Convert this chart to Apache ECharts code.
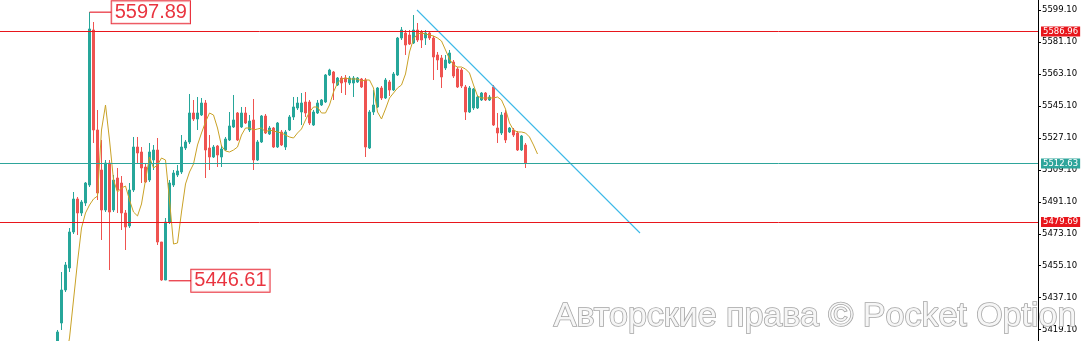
<!DOCTYPE html>
<html><head><meta charset="utf-8">
<script src="https://cdn.jsdelivr.net/npm/echarts@6/dist/echarts.min.js"></script>
<style>html,body{margin:0;padding:0;background:#fff}#c{width:1086px;height:341px}</style>
</head><body><div id="c"></div>
<script>
// candle values, one entry per bar (index = bar number)
const opens = [
5410.46,5422.85,5441.43,5453.82,5474.09,5492.67,5484.79,5490.42,5500.56,5587.84,
5531.53,5509.00,5486.48,5512.94,5486.48,5504.50,5501.68,5484.79,5477.47,5497.74,
5521.95,5519.14,5510.69,5503.37,5514.63,5520.26,5468.46,5447.06,5479.72,5500.56,
5506.19,5507.88,5521.39,5524.77,5541.10,5537.72,5539.97,5546.73,5521.39,5516.32,
5522.52,5516.32,5520.26,5525.90,5533.22,5541.10,5533.22,5541.10,5531.53,5537.16,
5514.63,5524.77,5539.41,5529.27,5532.65,5521.95,5530.40,5521.95,5531.53,5538.85,
5543.92,5541.66,5547.29,5547.29,5534.34,5541.10,5545.60,5547.29,5562.50,5564.19,
5556.87,5560.81,5560.81,5557.99,5557.99,5558.56,5560.25,5559.68,5521.39,5541.66,
5544.48,5555.18,5549.55,5558.56,5554.05,5562.50,5583.33,5586.15,5585.02,5580.52,
5587.84,5586.71,5583.33,5586.15,5583.33,5573.76,5572.07,5566.44,5569.25,5569.82,
5565.88,5565.31,5555.74,5541.66,5543.92,5543.92,5548.42,5552.36,5548.42,5555.74,
5532.65,5529.84,5541.10,5530.40,5531.53,5529.84,5520.26,5523.08];
const closes = [
5417.78,5441.43,5455.51,5474.09,5492.67,5484.79,5490.98,5501.68,5588.40,5531.53,
5496.05,5486.48,5512.94,5485.35,5503.37,5497.74,5484.79,5476.91,5497.74,5521.95,
5518.58,5510.13,5502.25,5519.14,5520.26,5468.46,5447.06,5479.72,5501.68,5507.31,
5508.44,5521.95,5524.77,5541.10,5537.72,5541.10,5546.73,5520.26,5516.32,5521.95,
5517.45,5520.83,5526.46,5533.78,5537.16,5525.90,5541.10,5535.47,5536.59,5514.63,
5524.77,5539.41,5529.84,5532.65,5521.95,5535.47,5523.08,5530.40,5538.85,5544.48,
5546.73,5546.73,5541.10,5535.47,5541.66,5546.73,5548.42,5562.50,5565.31,5557.99,
5560.81,5557.99,5558.56,5560.81,5560.81,5560.81,5555.74,5521.95,5541.66,5545.60,
5555.18,5549.55,5559.68,5554.05,5563.06,5583.33,5587.84,5579.39,5579.95,5587.84,
5582.21,5582.21,5586.15,5583.33,5572.63,5570.94,5561.37,5570.94,5574.89,5561.93,
5555.74,5556.30,5541.66,5555.18,5554.62,5550.11,5552.36,5548.42,5550.11,5534.34,
5529.84,5539.97,5525.90,5532.65,5528.71,5520.26,5528.15,5512.94];
const lows = [
5407.64,5418.91,5440.30,5451.57,5472.96,5472.40,5483.10,5488.73,5499.43,5524.21,
5492.11,5469.59,5485.35,5452.69,5485.35,5484.79,5475.22,5463.95,5476.34,5496.61,
5512.94,5501.68,5501.68,5502.25,5509.00,5466.77,5446.61,5447.00,5478.60,5499.43,
5505.06,5506.75,5520.26,5523.64,5536.59,5531.53,5539.41,5504.50,5509.00,5515.76,
5510.69,5510.69,5519.70,5525.33,5532.65,5525.33,5532.65,5534.91,5530.40,5509.00,
5514.07,5524.21,5529.27,5528.71,5521.39,5521.39,5522.52,5520.26,5530.96,5537.16,
5542.79,5534.34,5538.85,5534.34,5533.78,5540.54,5545.04,5546.73,5561.93,5548.42,
5556.30,5552.36,5551.24,5556.87,5550.11,5557.99,5555.18,5516.32,5520.83,5539.97,
5543.92,5548.42,5548.98,5550.67,5553.49,5561.93,5582.21,5573.76,5579.39,5579.95,
5581.08,5577.70,5579.39,5582.21,5559.68,5565.31,5555.18,5565.31,5568.69,5560.81,
5555.18,5555.18,5537.16,5541.10,5542.79,5543.35,5547.86,5547.86,5547.86,5533.78,
5524.21,5528.71,5524.21,5529.84,5527.59,5519.70,5519.70,5510.13];
const highs = [
5418.91,5451.57,5457.20,5476.34,5496.61,5493.80,5492.11,5502.25,5597.89,5592.34,
5542.79,5525.90,5514.63,5514.63,5506.19,5510.13,5505.62,5486.48,5501.68,5527.59,
5527.59,5521.95,5512.94,5524.21,5523.08,5527.02,5468.46,5481.97,5503.37,5509.00,
5511.82,5528.71,5525.90,5551.80,5548.42,5550.11,5549.55,5548.42,5528.71,5523.08,
5523.08,5523.08,5527.59,5541.66,5551.24,5541.66,5544.48,5544.48,5539.97,5548.98,
5525.90,5539.97,5540.54,5533.78,5533.22,5536.03,5531.53,5531.53,5539.97,5550.11,
5550.11,5552.36,5552.92,5548.42,5542.79,5548.42,5548.98,5563.06,5566.00,5564.75,
5561.37,5561.93,5562.50,5561.93,5561.93,5561.37,5560.81,5560.81,5542.79,5554.05,
5555.74,5556.30,5560.81,5559.68,5564.19,5583.90,5589.53,5587.84,5587.84,5596.28,
5591.78,5587.84,5587.84,5587.27,5584.46,5575.45,5573.76,5573.76,5576.57,5570.94,
5567.00,5566.44,5556.87,5556.30,5555.18,5551.24,5552.92,5552.92,5551.24,5556.87,
5541.10,5541.66,5542.79,5533.22,5532.65,5530.96,5528.71,5524.21];
// moving average line (extends 3 bars past the last candle)
const maValues = [
5379.49,5390.75,5402.01,5414.40,5435.80,5457.20,5476.34,5484.79,5489.29,5492.67,
5494.36,5531.53,5545.60,5525.90,5503.37,5496.61,5498.87,5499.99,5492.11,5485.35,
5483.10,5489.86,5503.37,5516.32,5510.13,5511.82,5515.76,5514.63,5492.11,5467.33,
5467.90,5485.35,5501.12,5507.88,5512.38,5523.08,5529.84,5536.03,5541.10,5539.97,
5532.65,5522.52,5519.70,5519.14,5520.26,5521.95,5528.71,5532.65,5532.65,5531.53,
5532.09,5532.65,5530.40,5531.53,5530.96,5530.40,5529.84,5528.71,5527.59,5527.02,
5529.84,5532.09,5537.16,5541.66,5544.48,5544.48,5541.10,5541.10,5545.60,5552.92,
5557.99,5560.25,5560.81,5560.25,5560.25,5560.25,5559.12,5559.68,5559.68,5555.18,
5541.66,5537.72,5543.35,5549.55,5552.36,5555.18,5556.87,5563.06,5575.45,5582.77,
5585.58,5586.15,5585.58,5585.02,5584.46,5583.33,5581.64,5576.57,5571.51,5568.13,
5567.00,5567.00,5565.88,5563.62,5556.87,5550.67,5549.55,5549.55,5549.55,5549.55,
5550.11,5548.42,5543.35,5535.47,5531.53,5530.40,5530.40,5529.84,5527.59,5523.08,
5518.01];
const yTicks = [5419.1,5437.1,5455.1,5473.1,5491.1,5509.1,5527.1,5545.1,5563.1,5581.1,5599.1];
const levelValues = [5586.96, 5512.63, 5479.69];
const trendBars = [89.875, 145.625];
const trendValues = [5599.10, 5473.53];
const highMark = {bar: 8, value: 5597.89, labelBar: 13.55};
const lowMark = {bar: 27.8, value: 5446.61, labelBar: 33.45};
const watermark = 'Авторские права © Pocket Option';

const UP = '#26a69a', DOWN = '#ef5350';
const levelColors = ['#e8161c', '#2ea59b', '#e8161c'];

const candleData = opens.map((o, i) => [i, o, closes[i], lows[i], highs[i]]);
const maData = maValues.map((v, i) => [i, v]);

const chart = echarts.init(document.getElementById('c'), null, {renderer: 'canvas'});
const annLabel = {
  show: true, position: 'right', distance: 0,
  color: '#e3000f', fontSize: 20, fontFamily: 'Liberation Sans',
  backgroundColor: '#fff', borderColor: '#e3000f', borderWidth: 1,
  padding: [1, 3, 0, 3], lineHeight: 21,
  formatter: p => p.value[1].toFixed(2)
};
chart.setOption({
  animation: false,
  grid: {left: 0, right: 48, top: 0, bottom: 0, containLabel: false},
  xAxis: {type: 'value', min: -14.375, max: 245.125, show: false},
  yAxis: {
    type: 'value', position: 'right', min: 5412.71, max: 5604.73,
    splitLine: {show: false},
    axisLine: {show: true, onZero: false, lineStyle: {color: '#000', width: 1}},
    axisTick: {show: true, length: 3, customValues: yTicks, lineStyle: {color: '#000'}},
    axisLabel: {customValues: yTicks, formatter: v => v.toFixed(2), fontFamily: 'DejaVu Sans', fontSize: 8.5, color: '#000', margin: 4}
  },
  graphic: [{
    type: 'text', left: 553, top: 299, z: 100, silent: true,
    style: {text: watermark, font: '34px "Liberation Sans"', fill: '#f6f6f6', stroke: '#a4a4a4', lineWidth: 1.6}
  }],
  series: [
    {
      type: 'candlestick', data: candleData, encode: {x: 0, y: [1, 2, 3, 4]},
      barWidth: 2, z: 2,
      itemStyle: {color: UP, color0: DOWN, borderColor: UP, borderColor0: DOWN, borderWidth: 1},
      markLine: {
        silent: true, symbol: ['none', 'none'], animation: false,
        lineStyle: {type: 'solid', width: 1},
        label: {show: true, position: 'end', distance: 3, color: '#fff', fontSize: 8.5, fontFamily: 'DejaVu Sans', padding: [1, 2, 0, 2], formatter: p => p.value.toFixed(2)},
        data: levelValues.map((v, i) => ({yAxis: v, lineStyle: {color: levelColors[i]}, label: {backgroundColor: levelColors[i]}}))
      }
    },
    {type: 'line', data: maData, showSymbol: false, z: 3, lineStyle: {color: '#c9a227', width: 1}},
    {type: 'line', data: [[trendBars[0], trendValues[0]], [trendBars[1], trendValues[1]]], showSymbol: false, z: 3, lineStyle: {color: '#3bb8e8', width: 1.1}},
    {type: 'line', data: [[highMark.bar, highMark.value], [highMark.labelBar, highMark.value]], showSymbol: false, z: 4, lineStyle: {color: '#e3000f', width: 1}},
    {type: 'line', data: [[lowMark.bar, lowMark.value], [lowMark.labelBar, lowMark.value]], showSymbol: false, z: 4, lineStyle: {color: '#e3000f', width: 1}},
    {type: 'scatter', symbolSize: 0, z: 5, data: [[highMark.labelBar, highMark.value], [lowMark.labelBar, lowMark.value]], label: annLabel}
  ]
});
</script>
</body></html>
